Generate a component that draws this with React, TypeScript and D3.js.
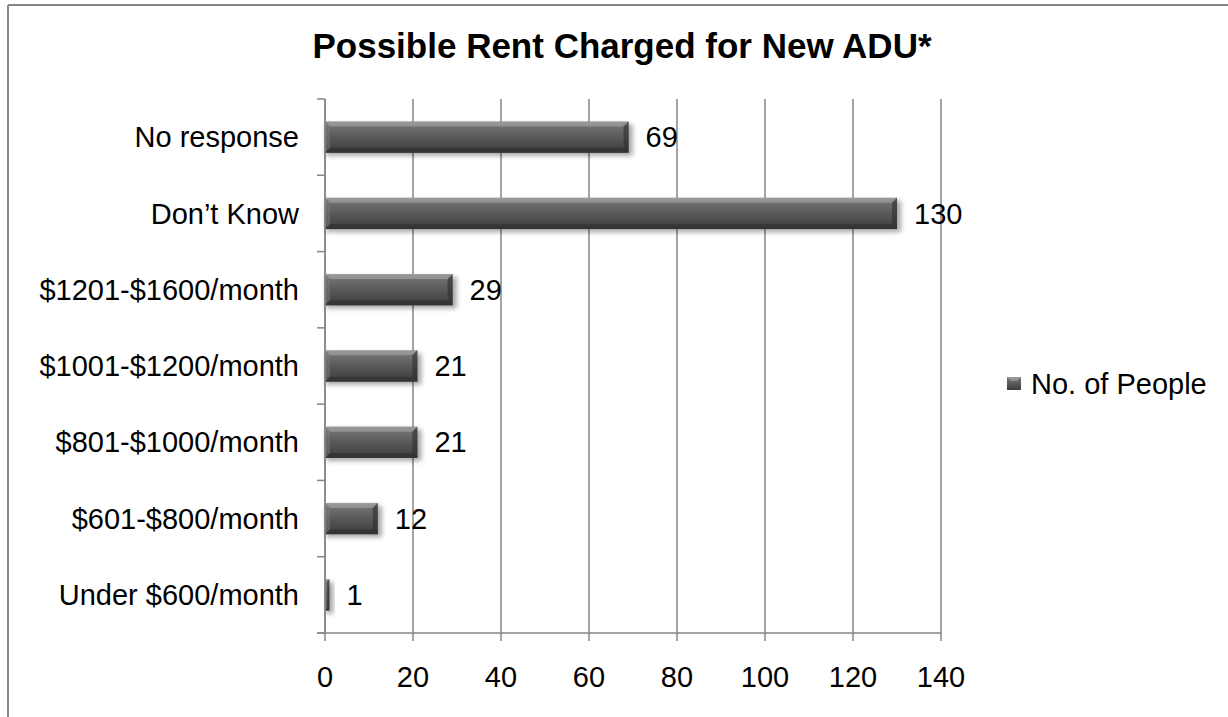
import * as d3 from "d3";
import React from "react";

const categories = [
    "No response",
    "Don\u2019t Know",
    "$1201-$1600/month",
    "$1001-$1200/month",
    "$801-$1000/month",
    "$601-$800/month",
    "Under $600/month",
];
const values = [69, 130, 29, 21, 21, 12, 1];
const xTicks = [0, 20, 40, 60, 80, 100, 120, 140];
const seriesName = "No. of People";
const title = "Possible Rent Charged for New ADU*";

const fullwidth = 1228;
const fullheight = 717;
const margin = { top: 99, right: 287, bottom: 84, left: 325 };
const gridColor = "#868686";
const font = "Arial, 'Liberation Sans', Helvetica, sans-serif";

export default function App() {
    const width = fullwidth - margin.left - margin.right;
    const height = fullheight - margin.top - margin.bottom;

    const xScale = d3.scaleLinear().domain([0, 140]).range([0, width]);
    const yScale = d3.scaleBand<string>()
        .domain(categories)
        .range([0, height])
        .paddingInner(0.59)
        .paddingOuter(0.295);
    const step = yScale.step();
    const bw = yScale.bandwidth();
    const bev = 5; // bevel size

    return <div style={{ position: "absolute", left: 0, top: 0 }}>
        <svg width={fullwidth} height={fullheight} style={{ display: "block", fontFamily: font }}>
            <defs>
                <linearGradient id="barFill" x1="0" y1="0" x2="0" y2="1">
                    <stop offset="0" stopColor="#8c8c8c" />
                    <stop offset="0.18" stopColor="#6e6e6e" />
                    <stop offset="0.55" stopColor="#565656" />
                    <stop offset="1" stopColor="#3c3c3c" />
                </linearGradient>
                <filter id="shadow" x="-10%" y="-50%" width="130%" height="200%">
                    <feGaussianBlur stdDeviation="2.5" />
                </filter>
            </defs>
            <rect x={0} y={0} width={fullwidth} height={fullheight} fill="#fff" />
            {/* outer chart border (top and left visible) */}
            <line x1={8} x2={fullwidth} y1={5} y2={5} stroke={gridColor} strokeWidth={2} />
            <line x1={8} x2={8} y1={5} y2={fullheight} stroke={gridColor} strokeWidth={2} />

            <text x={622} y={58} textAnchor="middle" fontWeight="bold" fontSize={35}>{title}</text>

            <g transform={`translate(${margin.left},${margin.top})`}>
                {/* vertical gridlines + bottom ticks */}
                {xTicks.map(t => (
                    <g key={t}>
                        <line x1={xScale(t)} x2={xScale(t)} y1={0} y2={height + 8}
                            stroke={gridColor} strokeWidth={1.5} />
                        <text x={xScale(t)} y={height + 54} textAnchor="middle" fontSize={29}>{t}</text>
                    </g>
                ))}
                {/* bottom axis line */}
                <line x1={-8} x2={width} y1={height} y2={height} stroke={gridColor} strokeWidth={1.5} />
                {/* category ticks */}
                {d3.range(categories.length + 1).map(i => (
                    <line key={i} x1={-8} x2={0} y1={i * step} y2={i * step}
                        stroke={gridColor} strokeWidth={1.5} />
                ))}

                {/* bars */}
                {categories.map((c, i) => {
                    const y = yScale(c) as number;
                    const w = xScale(values[i]);
                    const b = Math.min(bev, w / 2);
                    return <g key={c}>
                        <rect x={1} y={y + 3} width={w + 3} height={bw} fill="#000" opacity={0.35} filter="url(#shadow)" />
                        <rect x={0} y={y} width={w} height={bw} fill="url(#barFill)" />
                        <polygon points={`0,${y} ${w},${y} ${w - b},${y + b} ${b},${y + b}`} fill="#a8a8a8" opacity={0.55} />
                        <polygon points={`${w},${y} ${w},${y + bw} ${w - b},${y + bw - b} ${w - b},${y + b}`} fill="#2e2e2e" opacity={0.6} />
                        <polygon points={`0,${y + bw} ${w},${y + bw} ${w - b},${y + bw - b} ${b},${y + bw - b}`} fill="#2a2a2a" opacity={0.5} />
                        <polygon points={`0,${y} ${b},${y + b} ${b},${y + bw - b} 0,${y + bw}`} fill="#7a7a7a" opacity={0.5} />
                        <text x={w + 17} y={y + bw / 2} dy="0.35em" fontSize={29}>{values[i]}</text>
                    </g>;
                })}

                {/* left axis line */}
                <line x1={0} x2={0} y1={0} y2={height} stroke={gridColor} strokeWidth={1.5} />

                {/* category labels */}
                {categories.map(c => (
                    <text key={c} x={-26} y={(yScale(c) as number) + bw / 2} dy="0.35em"
                        textAnchor="end" fontSize={29}>{c}</text>
                ))}
            </g>

            {/* legend */}
            <g transform="translate(1007,377)">
                <rect x={0} y={0} width={14} height={13} fill="url(#barFill)" />
                <polygon points="0,0 14,0 10,4 4,4" fill="#a8a8a8" opacity={0.6} />
                <text x={24} y={6.5} dy="0.35em" fontSize={29}>{seriesName}</text>
            </g>
        </svg>
    </div>;
}
